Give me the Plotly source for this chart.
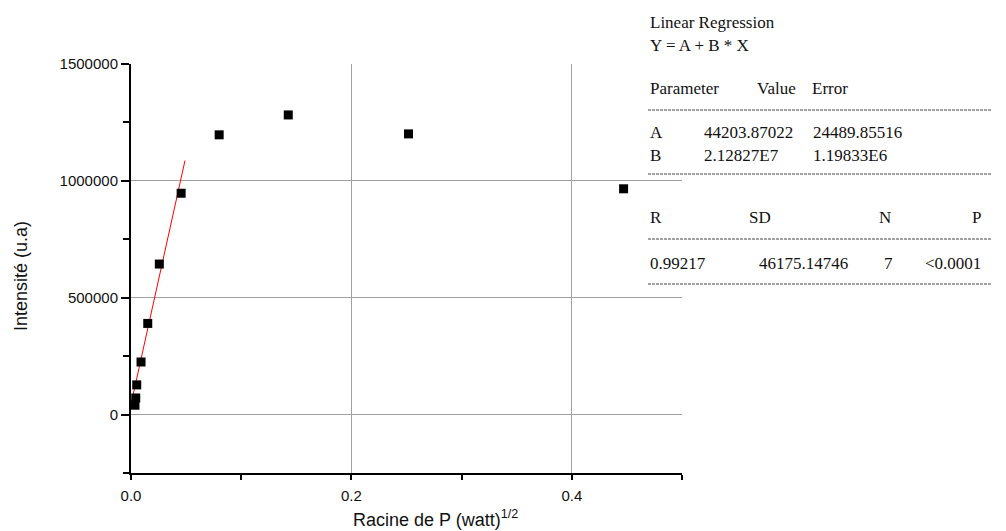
import plotly.graph_objects as go

# ---- data ----
x_vals = [0.0036, 0.0043, 0.0052, 0.0091, 0.0152, 0.0257, 0.0455, 0.080, 0.1427, 0.2518, 0.447]
y_vals = [40000, 71000, 127000, 225000, 390000, 644000, 947000, 1197000, 1282000, 1201000, 966000]

A = 44203.87022
B = 2.12827e7
fit_x = [0.0, 0.049]
fit_y = [A + B * v for v in fit_x]

x_ticks = [0.0, 0.2, 0.4]
x_labels = ["0.0", "0.2", "0.4"]
y_ticks = [0, 500000, 1000000, 1500000]
y_labels = ["0", "500000", "1000000", "1500000"]
y_grid = [0, 500000, 1000000]

# ---- layout geometry (pixels) ----
W, H = 1006, 531
L, R, T, Bm = 131, 324, 64, 58
PW, PH = W - L - R, H - T - Bm


def px(x):
    return (x - L) / PW


def py(y):
    return (H - Bm - y) / PH


fig = go.Figure()
fig.add_trace(go.Scatter(x=fit_x, y=fit_y, mode="lines",
                         line=dict(color="#ff0000", width=1), showlegend=False,
                         hoverinfo="skip"))
fig.add_trace(go.Scatter(x=x_vals, y=y_vals, mode="markers",
                         marker=dict(symbol="square", size=9, color="black"),
                         showlegend=False))
# invisible trace to activate grid axis
fig.add_trace(go.Scatter(x=[0.1], y=[0], yaxis="y2", mode="markers",
                         marker=dict(size=1, opacity=0), showlegend=False,
                         hoverinfo="skip"))

axis_font = dict(family="Liberation Sans, Arial", size=15, color="#111")

fig.update_layout(
    width=W, height=H,
    margin=dict(l=L, r=R, t=T, b=Bm, pad=0),
    paper_bgcolor="white", plot_bgcolor="white",
    xaxis=dict(range=[0, 0.5], tickvals=x_ticks, ticktext=x_labels,
               showline=True, linecolor="black", linewidth=2,
               ticks="outside", ticklen=5, tickwidth=1.5, tickcolor="black",
               ticklabelstandoff=3,
               showgrid=True, gridcolor="#a0a0a0", gridwidth=1, zeroline=False,
               minor=dict(tickvals=[0.1, 0.3, 0.5], ticks="outside", ticklen=5,
                          tickwidth=1.5, tickcolor="black", showgrid=False),
               tickfont=axis_font),
    yaxis=dict(range=[-250000, 1500000], tickvals=y_ticks, ticktext=y_labels,
               showline=True, linecolor="black", linewidth=2,
               ticks="outside", ticklen=8, tickwidth=1.5, tickcolor="black",
               showgrid=False, zeroline=False,
               minor=dict(tickvals=[-250000, 250000, 750000, 1250000], ticks="outside",
                          ticklen=6, tickwidth=1.5, tickcolor="black", showgrid=False),
               tickfont=axis_font),
    yaxis2=dict(range=[-250000, 1500000], overlaying="y", tickvals=y_grid,
                showticklabels=False, ticks="", showline=False, zeroline=False,
                showgrid=True, gridcolor="#a0a0a0", gridwidth=1),
    font=dict(family="Liberation Sans, Arial", color="#111"),
)

# axis titles
fig.add_annotation(text="Intensité (u.a)", xref="paper", yref="paper",
                   x=px(21), y=py(276), xanchor="center", yanchor="middle",
                   textangle=-90, showarrow=False,
                   font=dict(family="Liberation Sans, Arial", size=18, color="#111"))
fig.add_annotation(text="Racine de P (watt)<sup>1/2</sup>", xref="paper", yref="paper",
                   x=px(351), y=py(518), xanchor="left", yanchor="middle",
                   showarrow=False,
                   font=dict(family="Liberation Sans, Arial", size=18, color="#111"))

# regression report
serif = dict(family="Liberation Serif, Times New Roman", size=17, color="#111")
report = [
    ("Linear Regression", 648, 23),
    ("Y = A + B * X", 648, 45),
    ("Parameter", 648, 88), ("Value", 755, 88), ("Error", 810, 88),
    ("A", 648, 132), ("44203.87022", 702, 132), ("24489.85516", 811, 132),
    ("B", 648, 155), ("2.12827E7", 702, 155), ("1.19833E6", 811, 155),
    ("R", 648, 218), ("SD", 747, 218), ("N", 877, 218), ("P", 970, 218),
    ("0.99217", 648, 263), ("46175.14746", 757, 263), ("7", 882, 263),
    ("<0.0001", 923, 263),
]
for txt, xx, yy in report:
    fig.add_annotation(text=txt, xref="paper", yref="paper", x=px(xx), y=py(yy),
                       xanchor="left", yanchor="middle", showarrow=False, font=serif)

for yy in [110, 174, 239, 284]:
    fig.add_shape(type="line", xref="paper", yref="paper",
                  x0=px(648), x1=px(991), y0=py(yy), y1=py(yy),
                  line=dict(color="#444", width=1, dash="3px,1px"))

fig.write_html("out.html")
